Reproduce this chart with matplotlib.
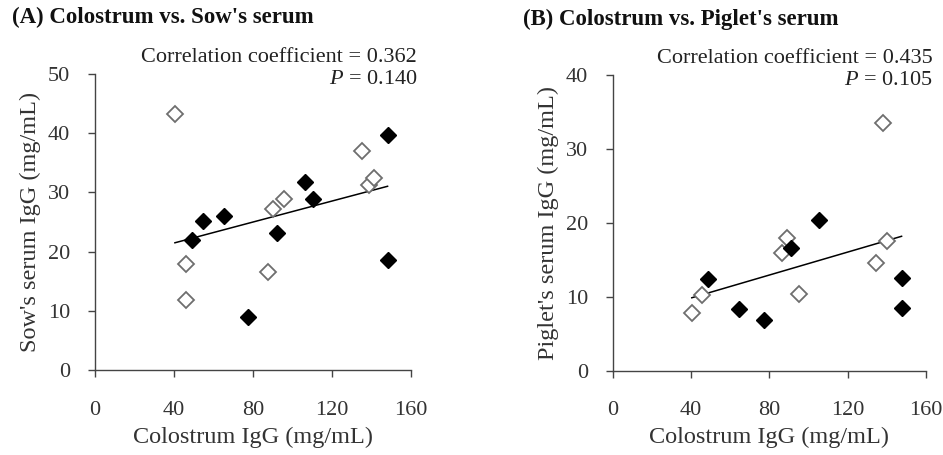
import numpy as np
import matplotlib.pyplot as plt

plt.rcParams['font.family'] = ['Liberation Serif', 'DejaVu Serif']
plt.rcParams['mathtext.fontset'] = 'custom'
plt.rcParams['mathtext.rm'] = 'Liberation Serif'
plt.rcParams['mathtext.it'] = 'Liberation Serif:italic'

# Panel A: colostrum IgG vs sow's serum IgG (mg/mL)
a_open_x = [40.5, 46, 46, 87.8, 90, 95.7, 135.4, 138.9, 141.3]
a_open_y = [43.2, 17.9, 11.9, 16.6, 27.2, 28.9, 37.0, 31.3, 32.4]
a_fill_x = [49.3, 54.8, 65.3, 77.6, 92, 106.5, 110.2, 148.2, 148.2]
a_fill_y = [22.0, 25.1, 26.0, 9.0, 23.1, 31.8, 28.9, 39.7, 18.6]

# Panel B: colostrum IgG vs piglet's serum IgG (mg/mL)
b_open_x = [40.3, 45.7, 86.3, 89.2, 95.2, 134.4, 137.9, 140.3]
b_open_y = [7.85, 10.3, 15.9, 18.0, 10.4, 14.5, 33.5, 17.5]
b_fill_x = [48.4, 64.6, 77.1, 91.1, 105.5, 147.5, 147.5]
b_fill_y = [12.4, 8.35, 6.9, 16.6, 20.4, 12.5, 8.5]

fig = plt.figure(figsize=(9.43, 4.55), dpi=100)
ax1 = fig.add_axes([0.1007, 0.1868, 0.335, 0.6505])
ax2 = fig.add_axes([0.650, 0.1853, 0.332, 0.650])


def draw(ax, ox, oy, fx, fy, ymax, ylabel, r, p):
    ax.plot(ox, oy, 'D', ms=8, mfc='white', mec='#6e6e6e', mew=1.3, clip_on=False, zorder=3)
    ax.plot(fx, fy, 'D', ms=8, mfc='black', mec='black', clip_on=False, zorder=3)
    xs = np.array(ox + fx)
    ys = np.array(oy + fy)
    k, b = np.polyfit(xs, ys, 1)
    lx = np.array([xs.min(), xs.max()])
    ax.plot(lx, k * lx + b, color='black', lw=1.1, zorder=2)

    ax.set_xlim(0, 160)
    ax.set_ylim(0, ymax)
    ax.set_xticks([0, 40, 80, 120, 160])
    ax.set_yticks(np.arange(0, ymax + 1, 10))
    for s in ['top', 'right']:
        ax.spines[s].set_visible(False)
    for s in ['left', 'bottom']:
        ax.spines[s].set_color('#444444')
        ax.spines[s].set_linewidth(1.0)
    ax.tick_params(axis='both', direction='out', length=5, width=1.0, color='#444444',
                   labelsize=16, labelcolor='#333333')
    ax.tick_params(axis='x', pad=17)
    ax.tick_params(axis='y', pad=13)
    ax.set_xlabel('Colostrum IgG (mg/mL)', fontsize=17.5, color='#333333', labelpad=5)
    ax.set_ylabel(ylabel, fontsize=17.5, color='#333333', labelpad=5)
    ax.text(1.02, 1.055, 'Correlation coefficient = ' + r, transform=ax.transAxes,
            ha='right', va='center', fontsize=16, color='#222222')
    ax.text(1.02, 0.98, '$P$ = ' + p, transform=ax.transAxes,
            ha='right', va='center', fontsize=16, color='#222222')
    return ax


draw(ax1, a_open_x, a_open_y, a_fill_x, a_fill_y, 50, "Sow's serum IgG (mg/mL)",
     '0.362', '0.140')
draw(ax2, b_open_x, b_open_y, b_fill_x, b_fill_y, 40, "Piglet's serum IgG (mg/mL)",
     '0.435', '0.105')

fig.text(12 / 943, 1 - 17 / 455, "(A) Colostrum vs. Sow's serum", fontsize=16.5,
         fontweight='bold', ha='left', va='center', color='#111111')
fig.text(523 / 943, 1 - 19 / 455, "(B) Colostrum vs. Piglet's serum", fontsize=16.5,
         fontweight='bold', ha='left', va='center', color='#111111')

fig.savefig('out.png', dpi=100)
